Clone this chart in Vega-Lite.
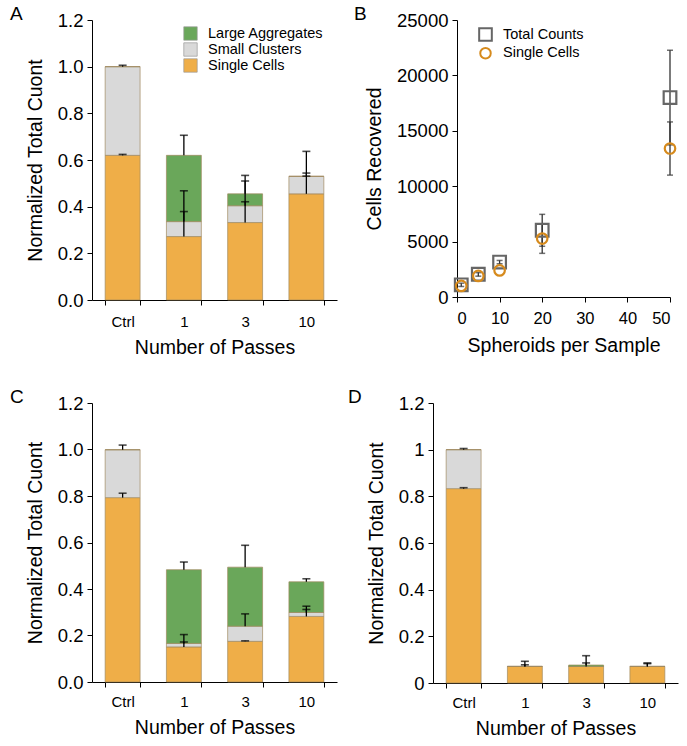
{
  "$schema": "https://vega.github.io/schema/vega-lite/v6.json",
  "padding": {"left": 10, "top": 5, "right": 5, "bottom": 5},
  "spacing": 31,
  "resolve": {"scale": {"color": "independent", "shape": "independent", "size": "independent", "x": "independent", "y": "independent"}, "legend": {"color": "independent", "shape": "independent", "size": "independent"}},
  "config": {
    "font": "Liberation Sans",
    "view": {"stroke": null},
    "axis": {"labelFont": "Liberation Sans", "titleFont": "Liberation Sans", "labelFontSize": 15, "titleFontSize": 19.5, "titleFontWeight": "normal", "labelColor": "#000", "titleColor": "#000", "domainColor": "#000", "tickColor": "#000", "grid": false, "tickSize": 5},
    "axisY": {"labelFontSize": 18.5},
    "legend": {"labelFont": "Liberation Sans", "labelFontSize": 14.5, "labelColor": "#000"},
    "title": {"font": "Liberation Sans", "fontSize": 19, "fontWeight": "normal", "anchor": "start", "frame": "group", "color": "#000"},
    "concat": {"spacing": 24}
  },
  "datasets": {
    "barsA": [
      {"passes": "Ctrl", "type": "Single Cells", "rank": 1, "value": 0.62},
      {"passes": "Ctrl", "type": "Small Clusters", "rank": 2, "value": 0.38},
      {"passes": "Ctrl", "type": "Large Aggregates", "rank": 3, "value": 0.0},
      {"passes": "1", "type": "Single Cells", "rank": 1, "value": 0.272},
      {"passes": "1", "type": "Small Clusters", "rank": 2, "value": 0.064},
      {"passes": "1", "type": "Large Aggregates", "rank": 3, "value": 0.284},
      {"passes": "3", "type": "Single Cells", "rank": 1, "value": 0.332},
      {"passes": "3", "type": "Small Clusters", "rank": 2, "value": 0.072},
      {"passes": "3", "type": "Large Aggregates", "rank": 3, "value": 0.051},
      {"passes": "10", "type": "Single Cells", "rank": 1, "value": 0.455},
      {"passes": "10", "type": "Small Clusters", "rank": 2, "value": 0.075},
      {"passes": "10", "type": "Large Aggregates", "rank": 3, "value": 0.0}
    ],
    "errA": [
      {"passes": "Ctrl", "low": 0.62, "high": 0.624},
      {"passes": "Ctrl", "low": 1.0, "high": 1.006},
      {"passes": "1", "low": 0.272, "high": 0.468},
      {"passes": "1", "low": 0.336, "high": 0.379},
      {"passes": "1", "low": 0.62, "high": 0.706},
      {"passes": "3", "low": 0.332, "high": 0.421},
      {"passes": "3", "low": 0.404, "high": 0.51},
      {"passes": "3", "low": 0.455, "high": 0.534},
      {"passes": "10", "low": 0.455, "high": 0.544},
      {"passes": "10", "low": 0.53, "high": 0.637},
      {"passes": "10", "low": 0.53, "high": 0.531}
    ],
    "barsC": [
      {"passes": "Ctrl", "type": "Single Cells", "rank": 1, "value": 0.793},
      {"passes": "Ctrl", "type": "Small Clusters", "rank": 2, "value": 0.206},
      {"passes": "Ctrl", "type": "Large Aggregates", "rank": 3, "value": 0.0},
      {"passes": "1", "type": "Single Cells", "rank": 1, "value": 0.151},
      {"passes": "1", "type": "Small Clusters", "rank": 2, "value": 0.015},
      {"passes": "1", "type": "Large Aggregates", "rank": 3, "value": 0.317},
      {"passes": "3", "type": "Single Cells", "rank": 1, "value": 0.175},
      {"passes": "3", "type": "Small Clusters", "rank": 2, "value": 0.065},
      {"passes": "3", "type": "Large Aggregates", "rank": 3, "value": 0.254},
      {"passes": "10", "type": "Single Cells", "rank": 1, "value": 0.282},
      {"passes": "10", "type": "Small Clusters", "rank": 2, "value": 0.017},
      {"passes": "10", "type": "Large Aggregates", "rank": 3, "value": 0.132}
    ],
    "errC": [
      {"passes": "Ctrl", "low": 0.793, "high": 0.812},
      {"passes": "Ctrl", "low": 0.999, "high": 1.019},
      {"passes": "1", "low": 0.151, "high": 0.204},
      {"passes": "1", "low": 0.166, "high": 0.172},
      {"passes": "1", "low": 0.483, "high": 0.516},
      {"passes": "3", "low": 0.175, "high": 0.177},
      {"passes": "3", "low": 0.24, "high": 0.293},
      {"passes": "3", "low": 0.494, "high": 0.588},
      {"passes": "10", "low": 0.282, "high": 0.326},
      {"passes": "10", "low": 0.299, "high": 0.312},
      {"passes": "10", "low": 0.431, "high": 0.444}
    ],
    "barsD": [
      {"passes": "Ctrl", "type": "Single Cells", "rank": 1, "value": 0.833},
      {"passes": "Ctrl", "type": "Small Clusters", "rank": 2, "value": 0.167},
      {"passes": "Ctrl", "type": "Large Aggregates", "rank": 3, "value": 0.0},
      {"passes": "1", "type": "Single Cells", "rank": 1, "value": 0.071},
      {"passes": "1", "type": "Small Clusters", "rank": 2, "value": 0.0},
      {"passes": "1", "type": "Large Aggregates", "rank": 3, "value": 0.0},
      {"passes": "3", "type": "Single Cells", "rank": 1, "value": 0.071},
      {"passes": "3", "type": "Small Clusters", "rank": 2, "value": 0.0},
      {"passes": "3", "type": "Large Aggregates", "rank": 3, "value": 0.006},
      {"passes": "10", "type": "Single Cells", "rank": 1, "value": 0.071},
      {"passes": "10", "type": "Small Clusters", "rank": 2, "value": 0.0},
      {"passes": "10", "type": "Large Aggregates", "rank": 3, "value": 0.0}
    ],
    "errD": [
      {"passes": "Ctrl", "low": 0.833, "high": 0.837},
      {"passes": "Ctrl", "low": 1.0, "high": 1.005},
      {"passes": "1", "low": 0.071, "high": 0.093},
      {"passes": "1", "low": 0.071, "high": 0.078},
      {"passes": "3", "low": 0.071, "high": 0.086},
      {"passes": "3", "low": 0.077, "high": 0.117},
      {"passes": "10", "low": 0.071, "high": 0.086},
      {"passes": "10", "low": 0.071, "high": 0.083}
    ],
    "ptsB": [
      {"spheroids": 1, "series": "Total Counts", "cells": 1100},
      {"spheroids": 5, "series": "Total Counts", "cells": 2050},
      {"spheroids": 10, "series": "Total Counts", "cells": 3150},
      {"spheroids": 20, "series": "Total Counts", "cells": 6020},
      {"spheroids": 50, "series": "Total Counts", "cells": 18000},
      {"spheroids": 1, "series": "Single Cells", "cells": 1000},
      {"spheroids": 5, "series": "Single Cells", "cells": 1900},
      {"spheroids": 10, "series": "Single Cells", "cells": 2400},
      {"spheroids": 20, "series": "Single Cells", "cells": 5270},
      {"spheroids": 50, "series": "Single Cells", "cells": 13400}
    ],
    "errB": [
      {"spheroids": 1, "low": 950, "high": 1250},
      {"spheroids": 5, "low": 1880, "high": 2200},
      {"spheroids": 10, "low": 3000, "high": 3300},
      {"spheroids": 20, "low": 4580, "high": 7460},
      {"spheroids": 20, "low": 3940, "high": 6600},
      {"spheroids": 50, "low": 13730, "high": 22270},
      {"spheroids": 50, "low": 11000, "high": 15800}
    ]
  },
  "vconcat": [
    {
      "spacing": 17,
      "resolve": {"scale": {"color": "independent", "shape": "independent", "size": "independent", "x": "independent", "y": "independent"}, "legend": {"color": "independent", "shape": "independent", "size": "independent"}},
      "hconcat": [
        {
          "width": 245, "height": 280,
          "title": {"text": "A", "dx": -82, "offset": -13},
          "layer": [
            {
              "data": {"name": "barsA"},
              "mark": {"type": "bar", "stroke": "#a08a60", "strokeWidth": 0.7},
              "encoding": {
                "x": {"field": "passes", "type": "nominal", "sort": ["Ctrl", "1", "3", "10"], "scale": {"paddingInner": 0.43, "paddingOuter": 0.215}, "axis": {"title": "Number of Passes", "labelAngle": 0, "tickBand": "extent", "labelPadding": 9, "titlePadding": 9}},
                "y": {"field": "value", "type": "quantitative", "stack": "zero", "scale": {"domain": [0, 1.2]}, "axis": {"title": "Normalized Total Cuont", "values": [0, 0.2, 0.4, 0.6, 0.8, 1.0, 1.2], "format": ".1f", "labelPadding": 4, "titlePadding": 12}},
                "color": {"field": "type", "type": "nominal", "sort": ["Large Aggregates", "Small Clusters", "Single Cells"], "scale": {"domain": ["Large Aggregates", "Small Clusters", "Single Cells"], "range": ["#6aa75a", "#d9d9d9", "#efae48"]}, "legend": {"title": null, "orient": "none", "legendX": 91, "legendY": 6, "symbolType": "square", "symbolSize": 180, "symbolStrokeColor": "#999", "symbolStrokeWidth": 0.7, "rowPadding": -1, "labelOffset": 10}},
                "order": {"field": "rank", "type": "quantitative", "sort": "ascending"}
              }
            },
            {
              "data": {"name": "errA"},
              "mark": {"type": "rule", "color": "#000", "strokeWidth": 1.3},
              "encoding": {
                "x": {"field": "passes", "type": "nominal", "sort": ["Ctrl", "1", "3", "10"]},
                "y": {"field": "low", "type": "quantitative"},
                "y2": {"field": "high"}
              }
            },
            {
              "data": {"name": "errA"},
              "mark": {"type": "tick", "color": "#000", "thickness": 1.6, "size": 8, "orient": "horizontal"},
              "encoding": {
                "x": {"field": "passes", "type": "nominal", "sort": ["Ctrl", "1", "3", "10"]},
                "y": {"field": "high", "type": "quantitative"}
              }
            }
          ]
        },
        {
          "width": 213, "height": 277,
          "title": {"text": "B", "dx": -103, "offset": -13},
          "layer": [
            {
              "data": {"name": "errB"},
              "mark": {"type": "rule", "color": "#333", "strokeWidth": 1.3},
              "encoding": {
                "x": {"field": "spheroids", "type": "quantitative"},
                "y": {"field": "low", "type": "quantitative"},
                "y2": {"field": "high"}
              }
            },
            {
              "data": {"name": "errB"},
              "mark": {"type": "tick", "color": "#333", "thickness": 1.5, "size": 6, "orient": "horizontal"},
              "encoding": {
                "x": {"field": "spheroids", "type": "quantitative"},
                "y": {"field": "low", "type": "quantitative"}
              }
            },
            {
              "data": {"name": "errB"},
              "mark": {"type": "tick", "color": "#333", "thickness": 1.5, "size": 6, "orient": "horizontal"},
              "encoding": {
                "x": {"field": "spheroids", "type": "quantitative"},
                "y": {"field": "high", "type": "quantitative"}
              }
            },
            {
              "data": {"name": "ptsB"},
              "mark": {"type": "point", "filled": false, "strokeWidth": 2.2, "opacity": 1},
              "encoding": {
                "x": {"field": "spheroids", "type": "quantitative", "scale": {"domain": [0, 50], "nice": false}, "axis": {"title": "Spheroids per Sample", "values": [0, 10, 20, 30, 40, 50], "labelFontSize": 16.5, "labelPadding": 8, "titlePadding": 10}},
                "y": {"field": "cells", "type": "quantitative", "scale": {"domain": [0, 25000], "nice": false}, "axis": {"title": "Cells Recovered", "values": [0, 5000, 10000, 15000, 20000, 25000], "format": "d", "labelPadding": 4, "titlePadding": 12}},
                "shape": {"field": "series", "type": "nominal", "sort": ["Total Counts", "Single Cells"], "scale": {"domain": ["Total Counts", "Single Cells"], "range": ["square", "circle"]}, "legend": {"title": null, "orient": "none", "legendX": 21, "legendY": 7, "symbolSize": 120, "symbolStrokeWidth": 2, "labelOffset": 10, "rowPadding": -1}},
                "color": {"field": "series", "type": "nominal", "sort": ["Total Counts", "Single Cells"], "scale": {"domain": ["Total Counts", "Single Cells"], "range": ["#666666", "#d68a1c"]}, "legend": {"title": null, "orient": "none", "legendX": 21, "legendY": 7, "symbolSize": 120, "symbolStrokeWidth": 2, "labelOffset": 10, "rowPadding": -1}},
                "size": {"field": "series", "type": "nominal", "scale": {"domain": ["Total Counts", "Single Cells"], "range": [160, 110]}, "legend": null}
              }
            }
          ]
        }
      ]
    },
    {
      "spacing": 11,
      "resolve": {"scale": {"color": "independent", "x": "independent", "y": "independent"}, "legend": {"color": "independent"}},
      "hconcat": [
        {
          "width": 245, "height": 279,
          "title": {"text": "C", "dx": -82, "offset": -13},
          "layer": [
            {
              "data": {"name": "barsC"},
              "mark": {"type": "bar", "stroke": "#a08a60", "strokeWidth": 0.7},
              "encoding": {
                "x": {"field": "passes", "type": "nominal", "sort": ["Ctrl", "1", "3", "10"], "scale": {"paddingInner": 0.43, "paddingOuter": 0.215}, "axis": {"title": "Number of Passes", "labelAngle": 0, "tickBand": "extent", "labelPadding": 7, "titlePadding": 9}},
                "y": {"field": "value", "type": "quantitative", "stack": "zero", "scale": {"domain": [0, 1.2]}, "axis": {"title": "Normalized Total Cuont", "values": [0, 0.2, 0.4, 0.6, 0.8, 1.0, 1.2], "format": ".1f", "labelPadding": 4, "titlePadding": 12}},
                "color": {"field": "type", "type": "nominal", "sort": ["Large Aggregates", "Small Clusters", "Single Cells"], "scale": {"domain": ["Large Aggregates", "Small Clusters", "Single Cells"], "range": ["#6aa75a", "#d9d9d9", "#efae48"]}, "legend": null},
                "order": {"field": "rank", "type": "quantitative", "sort": "ascending"}
              }
            },
            {
              "data": {"name": "errC"},
              "mark": {"type": "rule", "color": "#000", "strokeWidth": 1.3},
              "encoding": {
                "x": {"field": "passes", "type": "nominal", "sort": ["Ctrl", "1", "3", "10"]},
                "y": {"field": "low", "type": "quantitative"},
                "y2": {"field": "high"}
              }
            },
            {
              "data": {"name": "errC"},
              "mark": {"type": "tick", "color": "#000", "thickness": 1.6, "size": 8, "orient": "horizontal"},
              "encoding": {
                "x": {"field": "passes", "type": "nominal", "sort": ["Ctrl", "1", "3", "10"]},
                "y": {"field": "high", "type": "quantitative"}
              }
            }
          ]
        },
        {
          "width": 245, "height": 280,
          "title": {"text": "D", "dx": -85, "offset": -13},
          "layer": [
            {
              "data": {"name": "barsD"},
              "mark": {"type": "bar", "stroke": "#a08a60", "strokeWidth": 0.7},
              "encoding": {
                "x": {"field": "passes", "type": "nominal", "sort": ["Ctrl", "1", "3", "10"], "scale": {"paddingInner": 0.43, "paddingOuter": 0.215}, "axis": {"title": "Number of Passes", "labelAngle": 0, "tickBand": "extent", "labelPadding": 7, "titlePadding": 9}},
                "y": {"field": "value", "type": "quantitative", "stack": "zero", "scale": {"domain": [0, 1.2]}, "axis": {"title": "Normalized Total Cuont", "values": [0, 0.2, 0.4, 0.6, 0.8, 1.0, 1.2], "format": "~g", "labelPadding": 4, "titlePadding": 12}},
                "color": {"field": "type", "type": "nominal", "sort": ["Large Aggregates", "Small Clusters", "Single Cells"], "scale": {"domain": ["Large Aggregates", "Small Clusters", "Single Cells"], "range": ["#6aa75a", "#d9d9d9", "#efae48"]}, "legend": null},
                "order": {"field": "rank", "type": "quantitative", "sort": "ascending"}
              }
            },
            {
              "data": {"name": "errD"},
              "mark": {"type": "rule", "color": "#000", "strokeWidth": 1.3},
              "encoding": {
                "x": {"field": "passes", "type": "nominal", "sort": ["Ctrl", "1", "3", "10"]},
                "y": {"field": "low", "type": "quantitative"},
                "y2": {"field": "high"}
              }
            },
            {
              "data": {"name": "errD"},
              "mark": {"type": "tick", "color": "#000", "thickness": 1.6, "size": 8, "orient": "horizontal"},
              "encoding": {
                "x": {"field": "passes", "type": "nominal", "sort": ["Ctrl", "1", "3", "10"]},
                "y": {"field": "high", "type": "quantitative"}
              }
            }
          ]
        }
      ]
    }
  ]
}
